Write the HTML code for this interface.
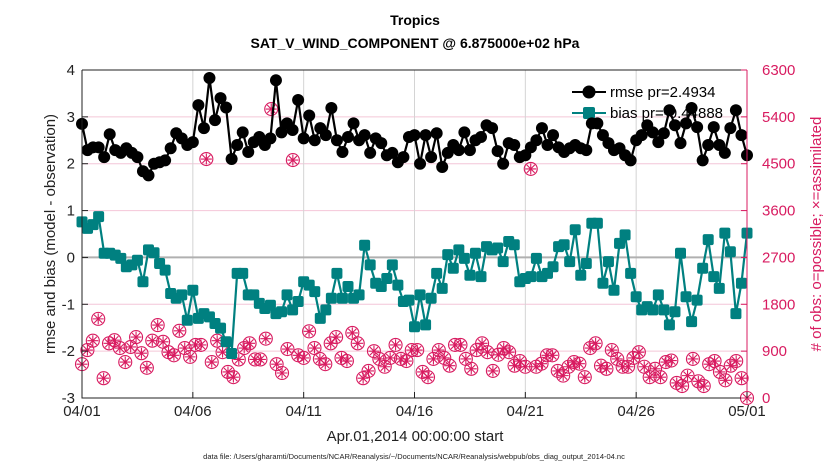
<!DOCTYPE html>
<html><head><meta charset="utf-8"><style>
body{margin:0;background:#fff;width:830px;height:470px;overflow:hidden;font-family:"Liberation Sans",sans-serif}
svg text{font-family:"Liberation Sans",sans-serif}
</style></head><body>
<svg id="chart" width="830" height="470" xmlns="http://www.w3.org/2000/svg"></svg>
<script>
const xTickLabels=["04/01","04/06","04/11","04/16","04/21","04/26","05/01"];
const leftTicks=[4,3,2,1,0,-1,-2,-3];
const rightTicks=[6300,5400,4500,3600,2700,1800,900,0];
const rmse=[2.85,2.29,2.35,2.35,2.14,2.63,2.29,2.23,2.33,2.23,2.14,1.84,1.75,2.0,2.03,2.07,2.33,2.65,2.54,2.4,2.46,
3.25,2.76,3.83,2.93,3.4,3.2,2.1,2.4,2.67,2.25,2.46,2.57,2.4,2.54,3.78,2.67,2.86,2.72,3.36,2.54,3.03,
2.5,2.76,2.61,3.19,2.5,2.25,2.57,2.86,2.5,2.61,2.23,2.54,2.44,2.18,2.23,2.03,2.14,2.57,2.61,
2.0,2.61,2.14,2.65,1.93,2.23,2.4,2.29,2.67,2.29,2.5,2.57,2.82,2.76,2.27,2.0,2.44,2.4,2.14,2.18,2.35,2.5,
2.76,2.4,2.61,2.35,2.25,2.33,2.4,2.33,2.29,2.86,2.86,2.61,2.44,2.29,2.33,2.18,2.07,2.5,2.61,2.82,2.67,
2.46,2.65,3.14,2.82,2.44,2.86,3.19,2.78,2.07,2.4,2.78,2.4,2.23,2.76,3.14,2.61,2.18];
const bias=[0.76,0.62,0.7,0.87,0.09,0.09,0.05,-0.02,-0.2,-0.16,-0.06,-0.52,0.16,0.1,-0.13,-0.27,-0.77,-0.87,-0.8,-1.34,-0.7,
-1.3,-1.2,-1.27,-1.41,-1.51,-1.8,-2.05,-0.34,-0.34,-0.8,-0.8,-0.98,-1.09,-1.02,-1.2,-1.16,-0.8,-1.12,-0.94,-0.52,
-0.59,-0.73,-1.3,-1.12,-0.87,-0.34,-0.87,-0.62,-0.87,-0.8,0.26,-0.16,-0.55,-0.62,-0.45,-0.16,-0.59,-0.94,-0.91,-1.48,-0.8,
-1.44,-0.87,-0.34,-0.66,0.06,-0.23,0.16,-0.02,-0.38,0.09,-0.41,0.23,0.16,0.2,-0.09,0.34,0.27,-0.52,-0.45,-0.41,-0.02,
-0.41,-0.34,-0.2,0.23,0.27,-0.09,0.59,-0.38,-0.13,0.73,0.73,-0.55,-0.09,-0.7,0.3,0.48,-0.34,-0.84,-1.12,-1.05,-1.12,
-0.8,-1.12,-1.44,-1.16,0.09,-0.84,-1.37,-0.91,-0.23,0.38,-0.41,-0.66,0.52,0.12,-1.2,-0.55,0.52];
const obsCount=[650,920,1100,1520,380,1050,1110,960,690,980,1170,860,580,1100,1400,1080,880,820,1290,960,790,1020,
1020,4590,690,1100,880,500,400,740,960,1050,740,740,1140,5550,650,480,940,4570,820,770,
1280,960,750,650,1050,1170,770,710,1250,1050,380,520,900,750,600,770,1020,750,710,920,920,
500,400,750,920,770,620,1020,1020,750,560,920,1050,880,520,830,960,880,620,710,600,4400,
600,660,820,820,520,430,600,690,660,400,960,1050,620,560,920,750,600,600,770,880,600,400,
560,400,690,720,290,230,430,750,320,230,650,710,500,340,620,710,380,0];

const NS="http://www.w3.org/2000/svg";
const svg=document.getElementById('chart');
const L=82,R=747,T=70,B=398;
const xDay=d=>L+(R-L)*d/30;
const yL=v=>T+(B-T)*(4-v)/7;
const yR=v=>B-(B-T)*v/6300;
const xIdx=(i,n)=>xDay(30*i/(n-1));
function el(tag,attrs,parent){const e=document.createElementNS(NS,tag);for(const k in attrs)e.setAttribute(k,attrs[k]);(parent||svg).appendChild(e);return e;}
function txt(s,attrs){const e=el('text',attrs);e.textContent=s;return e;}

const grid=el('g',{});


leftTicks.forEach(v=>{if(v!==0&&v!==4&&v!==-3){el('line',{x1:L,x2:R,y1:yL(v),y2:yL(v),stroke:'#f4c6d8','stroke-width':1},grid);}});
for(let k=1;k<6;k++){el('line',{x1:xDay(5*k),x2:xDay(5*k),y1:T,y2:B,stroke:'#d4d4d4','stroke-width':1},grid);}
const zl=el('line',{x1:L,x2:R,y1:yL(0),y2:yL(0),stroke:'#b0b0b0','stroke-width':2});



const leg=el('g',{});


el('line',{x1:572,x2:606,y1:92,y2:92,stroke:'#000','stroke-width':2},leg);
el('circle',{cx:589,cy:92,r:6.5,fill:'#000'},leg);
const lt1=el('text',{x:610,y:97,'font-size':15,fill:'#000'},leg);lt1.textContent='rmse pr=2.4934';
el('line',{x1:572,x2:606,y1:113,y2:113,stroke:'#008080','stroke-width':2},leg);
el('rect',{x:583,y:107,width:12,height:12,rx:2,fill:'#008080'},leg);
const lt2=el('text',{x:610,y:118,'font-size':15,fill:'#000'},leg);lt2.textContent='bias pr=-0.44888';

const og=el('g',{});


obsCount.forEach((v,i)=>{const x=xIdx(i,obsCount.length),y=yR(v);
 const g=el('g',{stroke:'#d81b60','stroke-width':1.1,fill:'none'},og);
 
 
 el('circle',{cx:x,cy:y,r:6.5},g);
 el('path',{d:`M${x-5.5} ${y}H${x+5.5}M${x} ${y-5.5}V${y+5.5}M${x-4} ${y-4}L${x+4} ${y+4}M${x-4} ${y+4}L${x+4} ${y-4}`},g);
});

const bg=el('g',{});


el('polyline',{points:bias.map((v,i)=>xIdx(i,bias.length)+','+yL(v)).join(' '),fill:'none',stroke:'#008080','stroke-width':2.2},bg);
bias.forEach((v,i)=>{const r=el('rect',{x:xIdx(i,bias.length)-5.5,y:yL(v)-5.5,width:11,height:11,rx:2,fill:'#008080'},bg);
 
 });

const rg=el('g',{});


el('polyline',{points:rmse.map((v,i)=>xIdx(i,rmse.length)+','+yL(v)).join(' '),fill:'none',stroke:'#000','stroke-width':2.2},rg);
rmse.forEach((v,i)=>{const c=el('circle',{cx:xIdx(i,rmse.length),cy:yL(v),r:6,fill:'#000'},rg);
 
 });

const ax=el('g',{});


el('path',{d:`M${L} ${T}V${B}H${R}`,stroke:'#222',fill:'none','stroke-width':1},ax);
el('line',{x1:L,x2:R,y1:T,y2:T,stroke:'#222'},ax);
el('line',{x1:R,x2:R,y1:T,y2:B,stroke:'#d81b60'},ax);
leftTicks.forEach(v=>{el('line',{x1:L,x2:L+6,y1:yL(v),y2:yL(v),stroke:'#222'},ax);
 const t=txt(String(v),{x:L-7,y:yL(v)+5,'font-size':15,'text-anchor':'end',fill:'#222'});
 
 });
rightTicks.forEach(v=>{el('line',{x1:R-6,x2:R,y1:yR(v),y2:yR(v),stroke:'#d81b60'},ax);
 const t=txt(String(v),{x:R+15,y:yR(v)+5,'font-size':15,fill:'#d81b60'});
 
 });
xTickLabels.forEach((s,k)=>{el('line',{x1:xDay(5*k),x2:xDay(5*k),y1:B,y2:B-6,stroke:'#222'},ax);
 const t=txt(s,{x:xDay(5*k),y:416,'font-size':15,'text-anchor':'middle',fill:'#222'});
 
 });

let t;
t=txt('Tropics',{x:415,y:25,'font-size':14,'font-weight':'bold','text-anchor':'middle'});


t=txt('SAT_V_WIND_COMPONENT @ 6.875000e+02 hPa',{x:415,y:48,'font-size':14,'font-weight':'bold','text-anchor':'middle'});


t=txt('Apr.01,2014 00:00:00 start',{x:415,y:441,'font-size':15,'text-anchor':'middle',fill:'#222'});


t=txt('rmse and bias (model - observation)',{x:0,y:0,'font-size':15,'text-anchor':'middle',fill:'#222',transform:'translate(55,234) rotate(-90)'});


t=txt('# of obs: o=possible; \u00d7=assimilated',{x:0,y:0,'font-size':15,'text-anchor':'middle',fill:'#d81b60',transform:'translate(821,234) rotate(-90)'});


t=txt('data file: /Users/gharamti/Documents/NCAR/Reanalysis/~/Documents/NCAR/Reanalysis/webpub/obs_diag_output_2014-04.nc',{x:414,y:459,'font-size':7.5,'text-anchor':'middle',fill:'#222'});


</script>
</body></html>
